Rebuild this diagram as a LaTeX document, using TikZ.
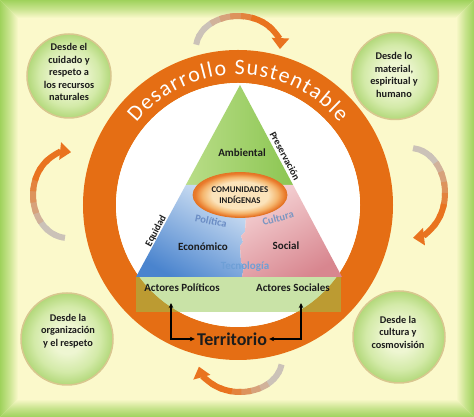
\documentclass[tikz,border=0pt]{standalone}
\usepackage{fontspec}
\setmainfont{Carlito}
\usetikzlibrary{arrows.meta,decorations.text,calc,shapes.geometric}
\definecolor{bgyel}{HTML}{FBF9CB}
\definecolor{bggreen}{HTML}{9FD25C}
\definecolor{ringor}{HTML}{E56E14}
\definecolor{arcgray}{HTML}{CBC2B8}
\definecolor{arcor}{HTML}{E9731F}
\definecolor{bubin}{HTML}{EEF6D2}
\definecolor{bubmid}{HTML}{D3EAA8}
\definecolor{bubout}{HTML}{B2D87A}
\definecolor{bubedge}{HTML}{D8C78F}
\definecolor{txt}{HTML}{1C1C1C}
\definecolor{poltxt}{HTML}{6A8CC4}
\definecolor{cultxt}{HTML}{7B96C2}
\definecolor{tectxt}{HTML}{6E9FD6}
\definecolor{rectgreen}{HTML}{94C850}
\definecolor{grnL}{HTML}{B9DD88}
\definecolor{grnR}{HTML}{8CC652}
\definecolor{bluT}{HTML}{D2E2F4}
\definecolor{bluB}{HTML}{4A84CE}
\definecolor{pnkT}{HTML}{F5D3D5}
\definecolor{pnkB}{HTML}{D8868F}
\definecolor{ellIn}{HTML}{FBE3BA}
\definecolor{ellMid}{HTML}{F5B66E}
\definecolor{ellOut}{HTML}{E9792A}
\definecolor{ellEdge}{HTML}{E27424}
\pgfdeclareradialshading{ellshade}{\pgfpoint{0bp}{0bp}}{color(0bp)=(ellIn); color(15bp)=(ellIn); color(20bp)=(ellMid); color(24bp)=(ellOut); color(50bp)=(ellOut)}
\pgfdeclareradialshading{bubshade}{\pgfpoint{0bp}{0bp}}{color(0bp)=(bubin); color(8bp)=(bubin); color(18bp)=(bubmid); color(25bp)=(bubout); color(50bp)=(bubout)}
\newcommand{\curvedarrow}[6]{%
  \foreach \k in {0,...,8}{%
    \pgfmathsetmacro\angA{#5+(#6-#5)*\k/12}%
    \pgfmathsetmacro\angB{#5+(#6-#5)*(\k+1.3)/12}%
    \pgfmathtruncatemacro\pc{min(100,max(0,(\k-2)*20))}%
    \draw[line width=6pt, arcor!\pc!arcgray] ($(#1,#2)+(\angA:#3 and #4)$) arc[start angle=\angA, end angle=\angB, x radius=#3, y radius=#4];
  }%
  \pgfmathsetmacro\angA{#5+(#6-#5)*9/12}%
  \draw[line width=6pt, arcor, -{Triangle[width=17pt,length=11pt]}] ($(#1,#2)+(\angA:#3 and #4)$) arc[start angle=\angA, end angle=#6, x radius=#3, y radius=#4];
}
\tikzset{
  bubble/.style={circle, draw=bubedge, line width=1.5pt, shading=bubshade, inner sep=0pt},
  bubtext/.style={align=center, text=txt, font=\fontsize{10.3}{12.5}\selectfont\bfseries},
  lbl/.style={text=txt, font=\fontsize{11}{13}\selectfont\bfseries, inner sep=1pt},
  soft/.style={font=\fontsize{10.5}{12}\selectfont\bfseries, inner sep=1pt},
  conn/.style={line width=1.2pt, black, {Stealth[length=5pt,width=4.5pt]}-{Stealth[length=5pt,width=4.5pt]}},
}
\begin{document}
\begin{tikzpicture}[x=1pt,y=1pt]
\useasboundingbox (0,0) rectangle (474,417);
% background and frame
\fill[bgyel] (0,0) rectangle (474,417);
\shade[top color=bggreen, bottom color=bgyel, middle color=bggreen!55!bgyel] (0,417) -- (474,417) -- (456,399) -- (18,399) -- cycle;
\shade[top color=bgyel, bottom color=bggreen, middle color=bggreen!55!bgyel] (0,0) -- (474,0) -- (456,18) -- (18,18) -- cycle;
\shade[left color=bggreen, right color=bgyel, middle color=bggreen!55!bgyel] (0,0) -- (0,417) -- (18,399) -- (18,18) -- cycle;
\shade[left color=bgyel, right color=bggreen, middle color=bggreen!55!bgyel] (474,0) -- (474,417) -- (456,399) -- (456,18) -- cycle;
% curved arrows
\curvedarrow{238}{369}{42}{32}{174}{-2}
\curvedarrow{240}{57}{42}{32}{-8}{-168}
\curvedarrow{68}{222}{35}{43}{265}{85}
\curvedarrow{410}{224}{35}{45}{85}{-85}
% bubbles
\node[bubble, minimum size=84pt] (b1) at (69,341) {};
\node[bubtext] (t1) at (69,345) {Desde el\\cuidado y\\respeto a\\los recursos\\naturales};
\node[bubble, minimum size=87pt] (b2) at (395,341) {};
\node[bubtext] (t2) at (394,342) {Desde lo\\material,\\espiritual y\\humano};
\node[bubble, minimum size=92pt] (b3) at (67,78) {};
\node[bubtext] (t3) at (68,86) {Desde la\\organización\\y el respeto};
\node[bubble, minimum size=92pt] (b4) at (399,80) {};
\node[bubtext] (t4) at (398,85) {Desde la\\cultura y\\cosmovisión};
% ring
\draw[ringor, line width=33pt] (238,212) circle[radius=138.5];
\fill[white] (238,212) circle[radius=122];
\path[decorate, decoration={text along path, text={|\fontsize{22}{22}\selectfont|Desarrollo Sustentable}, text color=white, text align=fit to path}] ($(238,212)+(141:130.5)$) arc[start angle=141, end angle=39, radius=130.5];
% triangle
\shade[left color=grnL, right color=grnR] (240,332) -- (185.8,232) -- (293.1,232) -- cycle;
\shade[shading=axis, top color=bluT, bottom color=bluB, shading angle=-30] (185.8,232) -- (246,232) -- (246,201) -- (245,185) -- (241,181) -- (243,175) -- (240,171) -- (241,155) -- (244,151) -- (242,140) -- (136,140) -- cycle;
\shade[shading=axis, top color=pnkT, bottom color=pnkB, shading angle=30] (246,232) -- (293.1,232) -- (342,140) -- (242,140) -- (244,151) -- (241,155) -- (240,171) -- (243,175) -- (241,181) -- (245,185) -- (246,201) -- cycle;
% ellipse
\node[ellipse, minimum width=94pt, minimum height=45pt, shading=ellshade, draw=ellEdge, line width=0.8pt, align=center, font=\fontsize{8.8}{11.5}\selectfont\bfseries, text=txt] (com) at (240,222) {COMUNIDADES\\INDÍGENAS};
% labels
\node[lbl] (amb) at (242,264) {Ambiental};
\node[lbl] (eco) at (203,170) {Económico};
\node[lbl] (soc) at (286,171) {Social};
\node[lbl, rotate=62, font=\fontsize{10}{12}\selectfont\bfseries] (equ) at (156,186) {Equidad};
\node[lbl, rotate=-62, font=\fontsize{10}{12}\selectfont\bfseries] (pre) at (285,261) {Preservación};
\node[soft, text=poltxt, rotate=-12] (pol) at (211,196) {Política};
\node[soft, text=cultxt, rotate=15] (cul) at (278,199) {Cultura};
\node[soft, text=tectxt, font=\fontsize{11}{12}\selectfont\bfseries] (tec) at (245,150) {Tecnología};
% base
\fill[rectgreen, fill opacity=0.5] (136,105) rectangle (341,140);
\node[lbl] (ap) at (182,129) {Actores Políticos};
\node[lbl] (as) at (293,129) {Actores Sociales};
\node[text=txt, font=\fontsize{18}{20}\selectfont\bfseries, inner sep=2pt] (terr) at (232,78) {Territorio};
\coordinate (lup) at (171,114);
\coordinate (rup) at (301,114);
\draw[conn] (terr.west) -| (lup);
\draw[conn] (terr.east) -| (rup);
\end{tikzpicture}
\end{document}
